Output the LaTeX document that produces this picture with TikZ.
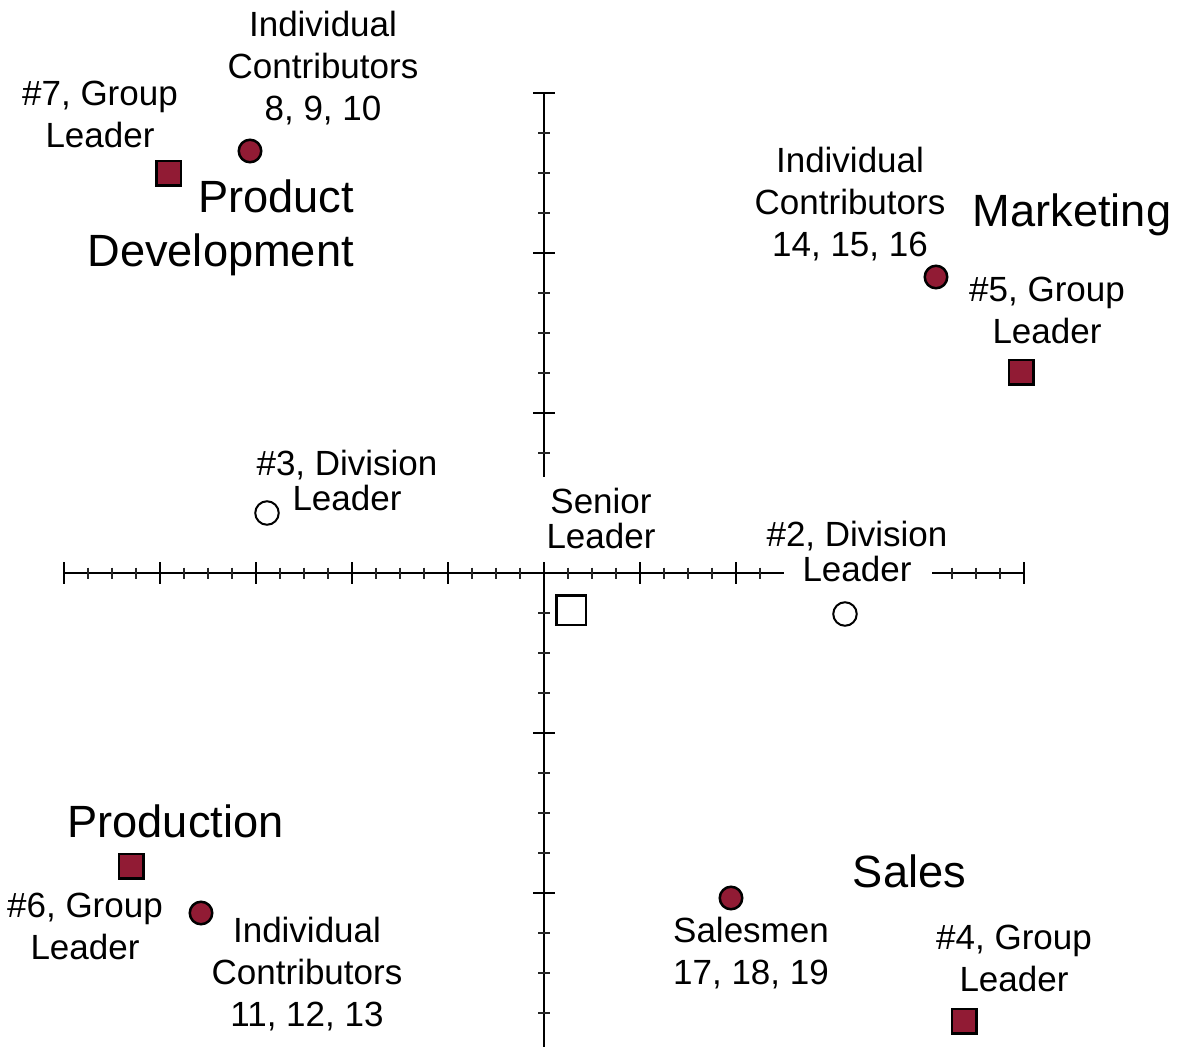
\documentclass[tikz,border=0pt]{standalone}
\usepackage{fontspec}
\setmainfont{Liberation Sans}
\definecolor{mred}{RGB}{145,27,52}
\begin{document}
\begin{tikzpicture}[x=1pt,y=-1pt,
  lbl/.style={align=center,inner sep=0pt,font=\fontsize{35}{42}\selectfont},
  lblt/.style={align=center,inner sep=0pt,font=\fontsize{35}{35}\selectfont},
  big/.style={inner sep=0pt,font=\fontsize{45.2}{54}\selectfont},
  rsq/.style={rectangle,draw=black,fill=mred,line width=2.5pt,minimum size=24.5pt,inner sep=0pt},
  rci/.style={circle,draw=black,fill=mred,line width=2.5pt,minimum size=22.5pt,inner sep=0pt},
  osq/.style={rectangle,draw=black,fill=white,line width=2.5pt,minimum size=29.5pt,inner sep=0pt},
  oci/.style={circle,draw=black,fill=white,line width=2pt,minimum size=23.5pt,inner sep=0pt},
  axisline/.style={line width=2.7pt,black},
  majtick/.style={line width=1.8pt,black},
  mintick/.style={line width=1.5pt,black!85}]
\useasboundingbox (0,0) rectangle (1188,1047);

% axes
\draw[axisline] (64,573) -- (784,573);
\draw[axisline] (932,573) -- (1024,573);
\draw[axisline] (544,93) -- (544,477);
\draw[axisline] (544,573) -- (544,1047);
% horizontal ticks
\foreach \x in {64,160,256,352,448,544,640,736,1024}
  \draw[majtick] (\x,562) -- (\x,584);
\foreach \x in {88,112,136,184,208,232,280,304,328,376,400,424,472,496,520,568,592,616,664,688,712,760,952,976,1000}
  \draw[mintick] (\x,567.5) -- (\x,578.5);
% vertical ticks
\foreach \y in {93,253,413,733,893}
  \draw[majtick] (533,\y) -- (555,\y);
\foreach \y in {133,173,213,293,333,373,453,613,653,693,773,813,853,933,973,1013}
  \draw[mintick] (538,\y) -- (550,\y);

% markers
\node[rsq] (gl7) at (168.5,173) {};
\node[rci] (ic7) at (250,151) {};
\node[rci] (ic5) at (936,277) {};
\node[rsq] (gl5) at (1021,372) {};
\node[oci] (dl3) at (267,513) {};
\node[osq] (sl) at (571,610) {};
\node[oci] (dl2) at (845,614) {};
\node[rsq] (gl6) at (131,866) {};
\node[rci] (ic6) at (201,913) {};
\node[rci] (ic4) at (731,898) {};
\node[rsq] (gl4) at (964,1021) {};

% labels
\node[lbl] (t1) at (323,68.5) {Individual\\Contributors\\8, 9, 10};
\node[lbl] (t2) at (100,114.5) {\#7, Group\\Leader};
\node[big,align=right,anchor=east] (t3) at (354,228) {Product\\Development};
\node[lbl] (t4) at (850,204.5) {Individual\\Contributors\\14, 15, 16};
\node[big] (t5) at (1072,215) {Marketing};
\node[lbl] (t6) at (1047,310) {\#5, Group\\Leader};
\node[lblt] (t7) at (347,480) {\#3, Division\\Leader};
\node[lblt] (t8) at (601,518.5) {Senior\\Leader};
\node[lblt] (t9) at (857,551.5) {\#2, Division\\Leader};
\node[big] (t10) at (175.5,821) {Production};
\node[lbl] (t11) at (85,926) {\#6, Group\\Leader};
\node[lbl] (t12) at (307,974.5) {Individual\\Contributors\\11, 12, 13};
\node[big] (t13) at (909.5,871) {Sales};
\node[lbl] (t14) at (751,953) {Salesmen\\17, 18, 19};
\node[lbl] (t15) at (1014,958) {\#4, Group\\Leader};
\end{tikzpicture}
\end{document}
